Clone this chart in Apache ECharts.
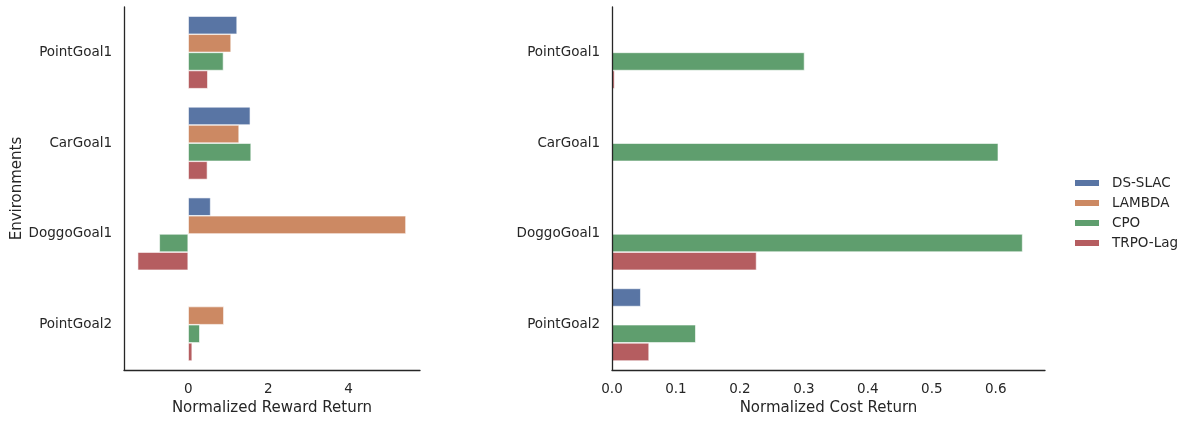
<!DOCTYPE html>
<html>
<head>
<meta charset="utf-8">
<script src="https://cdn.jsdelivr.net/npm/echarts@6/dist/echarts.min.js"></script>
<style>
  html, body { margin: 0; padding: 0; background: #fff; }
  #chart { width: 1192px; height: 421px; }
</style>
</head>
<body>
<div id="chart"></div>
<script>
// Environments and algorithms
const environments = ['PointGoal1', 'CarGoal1', 'DoggoGoal1', 'PointGoal2'];
const algorithms = ['DS-SLAC', 'LAMBDA', 'CPO', 'TRPO-Lag'];

// Normalized reward return per algorithm (one value per environment)
const rewardDsSlac = [1.22, 1.55, 0.56, 0.0];
const rewardLambda = [1.07, 1.27, 5.43, 0.89];
const rewardCpo = [0.88, 1.57, -0.72, 0.29];
const rewardTrpoLag = [0.49, 0.48, -1.26, 0.10];

// Normalized cost return per algorithm
const costDsSlac = [0.0, 0.0, 0.0, 0.045];
const costLambda = [0.0, 0.0, 0.0, 0.0];
const costCpo = [0.301, 0.604, 0.642, 0.131];
const costTrpoLag = [0.004, 0.0, 0.226, 0.058];

const rewardTicks = [0, 2, 4];
const costTicks = [0.0, 0.1, 0.2, 0.3, 0.4, 0.5, 0.6];

const colors = ['#5975a4', '#cc8963', '#5f9e6e', '#b55d60'];
const textColor = '#262626';
const font = 'DejaVu Sans';

const rewardData = [rewardDsSlac, rewardLambda, rewardCpo, rewardTrpoLag];
const costData = [costDsSlac, costLambda, costCpo, costTrpoLag];

function categoryAxis(gridIndex, name) {
  return {
    type: 'category',
    gridIndex: gridIndex,
    data: environments,
    inverse: true,
    z: 10,
    name: name,
    nameLocation: 'middle',
    nameGap: 99,
    nameRotate: 90,
    nameTextStyle: { color: textColor, fontSize: 15, fontFamily: font },
    axisLine: { show: true, onZero: false, lineStyle: { color: textColor, width: 1.3 } },
    axisTick: { show: false },
    axisLabel: { color: textColor, fontSize: 13.5, fontFamily: font, margin: 12 },
    splitLine: { show: false }
  };
}

function valueAxis(gridIndex, name, min, max, ticks, digits) {
  return {
    type: 'value',
    gridIndex: gridIndex,
    min: min,
    max: max,
    z: 10,
    name: name,
    nameLocation: 'middle',
    nameGap: 30,
    nameTextStyle: { color: textColor, fontSize: 15, fontFamily: font },
    axisLine: { show: true, onZero: false, lineStyle: { color: textColor, width: 1.3 } },
    axisTick: { show: false },
    axisLabel: {
      color: textColor, fontSize: 13.5, fontFamily: font, margin: 12,
      customValues: ticks,
      formatter: v => Number(v).toFixed(digits)
    },
    splitLine: { show: false }
  };
}

function barSeries(alg, i, values, axisIndex) {
  return {
    name: alg, type: 'bar', xAxisIndex: axisIndex, yAxisIndex: axisIndex,
    data: values,
    barGap: '0%', barCategoryGap: '20%',
    itemStyle: { color: colors[i], borderColor: '#fff', borderWidth: 0.6 },
    emphasis: { disabled: true }
  };
}

const series = [];
algorithms.forEach((alg, i) => series.push(barSeries(alg, i, rewardData[i], 0)));
algorithms.forEach((alg, i) => series.push(barSeries(alg, i, costData[i], 1)));

const chart = echarts.init(document.getElementById('chart'), null, { renderer: 'canvas' });
chart.setOption({
  animation: false,
  backgroundColor: '#fff',
  textStyle: { fontFamily: font },
  grid: [
    { left: 124, right: 772, top: 7, bottom: 48 },
    { left: 612, right: 147, top: 7, bottom: 48 }
  ],
  xAxis: [
    valueAxis(0, 'Normalized Reward Return', -1.6, 5.78, rewardTicks, 0),
    valueAxis(1, 'Normalized Cost Return', 0, 0.677, costTicks, 1)
  ],
  yAxis: [
    categoryAxis(0, 'Environments'),
    categoryAxis(1, '')
  ],
  legend: {
    orient: 'vertical',
    left: 1073,
    top: 174,
    padding: 0,
    icon: 'rect',
    itemWidth: 26,
    itemHeight: 8,
    itemGap: 2,
    data: algorithms,
    textStyle: { color: textColor, fontSize: 13.5, fontFamily: font, lineHeight: 18, padding: [0, 0, 0, 7] }
  },
  series: series
});
</script>
</body>
</html>
